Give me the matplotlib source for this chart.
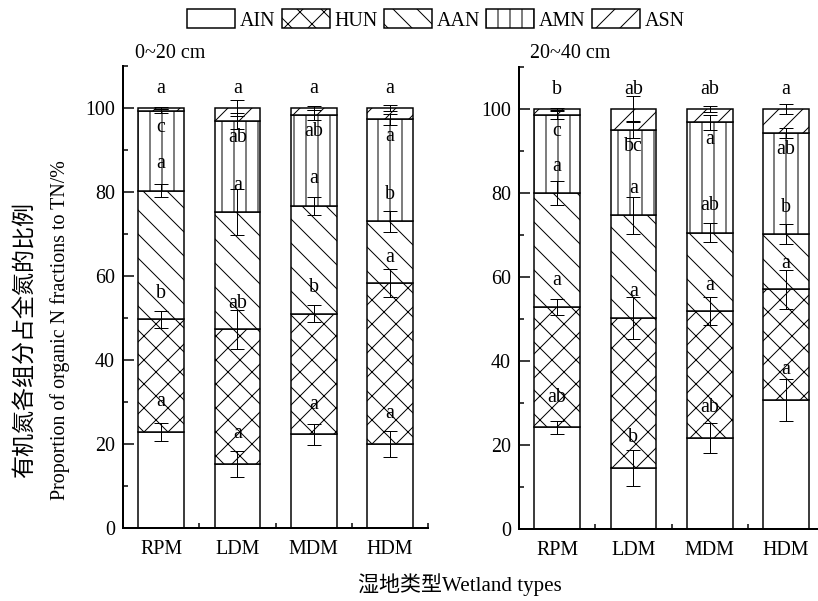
#!/usr/bin/env python3
"""
Stacked bars: proportion of organic N fractions to TN in two soil layers.
"""

import numpy as np
import matplotlib
matplotlib.use("Agg")
import matplotlib.pyplot as plt
from matplotlib.patches import Patch
from matplotlib.ticker import MultipleLocator

# Data
wetlands = ["RPM", "LDM", "MDM", "HDM"]
fractions = ["AIN", "HUN", "AAN", "AMN", "ASN"]

# 0~20 cm, segment heights (%)
top_ain = [22.8, 15.2, 22.3, 20.0]
top_hun = [26.9, 32.1, 28.7, 38.3]
top_aan = [30.6, 27.9, 25.7, 14.7]
top_amn = [19.0, 21.7, 21.6, 24.3]
top_asn = [0.7, 3.1, 1.7, 2.7]

top_ain_err = [2.1, 3.1, 2.5, 3.0]
top_hun_err = [2.0, 4.6, 2.0, 3.3]
top_aan_err = [1.5, 5.4, 2.2, 2.5]
top_amn_err = [0.5, 1.9, 1.2, 1.3]
top_asn_err = [0.3, 2.0, 0.5, 0.7]

top_ain_sig = ["a", "a", "a", "a"]
top_hun_sig = ["b", "ab", "b", "a"]
top_aan_sig = ["a", "a", "a", "b"]
top_amn_sig = ["c", "ab", "ab", "a"]
top_asn_sig = ["a", "a", "a", "a"]

# 20~40 cm
sub_ain = [24.3, 14.6, 21.7, 30.9]
sub_hun = [28.7, 35.7, 30.2, 26.2]
sub_aan = [27.0, 24.4, 18.7, 13.1]
sub_amn = [18.6, 20.4, 26.2, 24.1]
sub_asn = [1.4, 4.9, 3.2, 5.7]

sub_ain_err = [1.6, 4.3, 3.6, 5.0]
sub_hun_err = [1.9, 4.9, 3.3, 4.6]
sub_aan_err = [2.8, 4.4, 2.2, 2.4]
sub_amn_err = [1.0, 2.0, 1.7, 1.2]
sub_asn_err = [0.3, 3.0, 0.8, 1.3]

sub_ain_sig = ["ab", "b", "ab", "a"]
sub_hun_sig = ["a", "a", "a", "a"]
sub_aan_sig = ["a", "a", "ab", "b"]
sub_amn_sig = ["c", "bc", "a", "ab"]
sub_asn_sig = ["b", "ab", "ab", "a"]

# Styling
HATCHES = ["", "x", "\\", "|", "/"]
LETTER_OFFSET = [7.2, 6.2, 6.4, -4.0, 4.6]
FS = 20

plt.rcParams["font.family"] = ["Liberation Serif", "Noto Sans CJK SC"]
plt.rcParams["hatch.linewidth"] = 1.0
plt.rcParams["hatch.color"] = "black"


def draw_panel(ax, layers, errs, sigs):
    x = np.arange(1, len(wetlands) + 1)
    bottom = np.zeros(len(wetlands))
    for i, vals in enumerate(layers):
        vals = np.array(vals)
        ax.bar(x, vals, width=0.6, bottom=bottom, color="white",
               edgecolor="black", linewidth=1.5, hatch=HATCHES[i], zorder=2)
        tops = bottom + vals
        ax.errorbar(x, tops, yerr=errs[i], fmt="none", ecolor="black",
                    elinewidth=1, capsize=7, capthick=1, zorder=3)
        for xi, t, s in zip(x, tops, sigs[i]):
            ax.text(xi, t + LETTER_OFFSET[i], s, ha="center", va="center",
                    fontsize=FS, zorder=4)
        bottom = tops

    ax.set_xlim(0.5, 4.5)
    ax.set_ylim(0, 110)
    ax.set_xticks(x)
    ax.set_xticklabels(wetlands)
    ax.set_xticks(x + 0.5, minor=True)
    ax.set_yticks(np.arange(0, 101, 20))
    ax.yaxis.set_minor_locator(MultipleLocator(10))
    ax.tick_params(which="both", direction="in", width=1.5, labelsize=FS)
    ax.tick_params(which="major", length=11)
    ax.tick_params(which="minor", length=5)
    ax.tick_params(axis="x", pad=12)
    ax.tick_params(axis="y", pad=8)
    for side in ["top", "right"]:
        ax.spines[side].set_visible(False)
    for side in ["left", "bottom"]:
        ax.spines[side].set_linewidth(2)


fig = plt.figure(figsize=(818 / 72, 601 / 72), dpi=72)
ax1 = fig.add_axes([0.1504, 0.1215, 0.3729, 0.7687])
ax2 = fig.add_axes([0.6345, 0.1190, 0.3729, 0.7696])

draw_panel(ax1,
           [top_ain, top_hun, top_aan, top_amn, top_asn],
           [top_ain_err, top_hun_err, top_aan_err, top_amn_err, top_asn_err],
           [top_ain_sig, top_hun_sig, top_aan_sig, top_amn_sig, top_asn_sig])
draw_panel(ax2,
           [sub_ain, sub_hun, sub_aan, sub_amn, sub_asn],
           [sub_ain_err, sub_hun_err, sub_aan_err, sub_amn_err, sub_asn_err],
           [sub_ain_sig, sub_hun_sig, sub_aan_sig, sub_amn_sig, sub_asn_sig])

# Panel titles
fig.text(135 / 818, 1 - 53 / 601, "0~20 cm", fontsize=FS, va="center")
fig.text(530 / 818, 1 - 53 / 601, "20~40 cm", fontsize=FS, va="center")

# Axis labels
fig.text(26 / 818, 1 - 340 / 601, "有机氮各组分占全氮的比例", rotation=90,
         fontsize=23, ha="center", va="center")
fig.text(60 / 818, 1 - 330 / 601, "Proportion of organic N fractions to TN/%",
         rotation=90, fontsize=FS, ha="center", va="center")
fig.text(460 / 818, 1 - 585 / 601, "湿地类型Wetland types", fontsize=21,
         ha="center", va="center")

# Legend
handles = [Patch(facecolor="white", edgecolor="black", linewidth=1.5, hatch=h)
           for h in HATCHES]
fig.legend(handles, fractions, loc="center", bbox_to_anchor=(0.533, 0.967),
           ncol=5, frameon=False, fontsize=FS, handlelength=2.4,
           handleheight=1.1, handletextpad=0.25, columnspacing=0.3)

fig.savefig("out.png", dpi=72)
